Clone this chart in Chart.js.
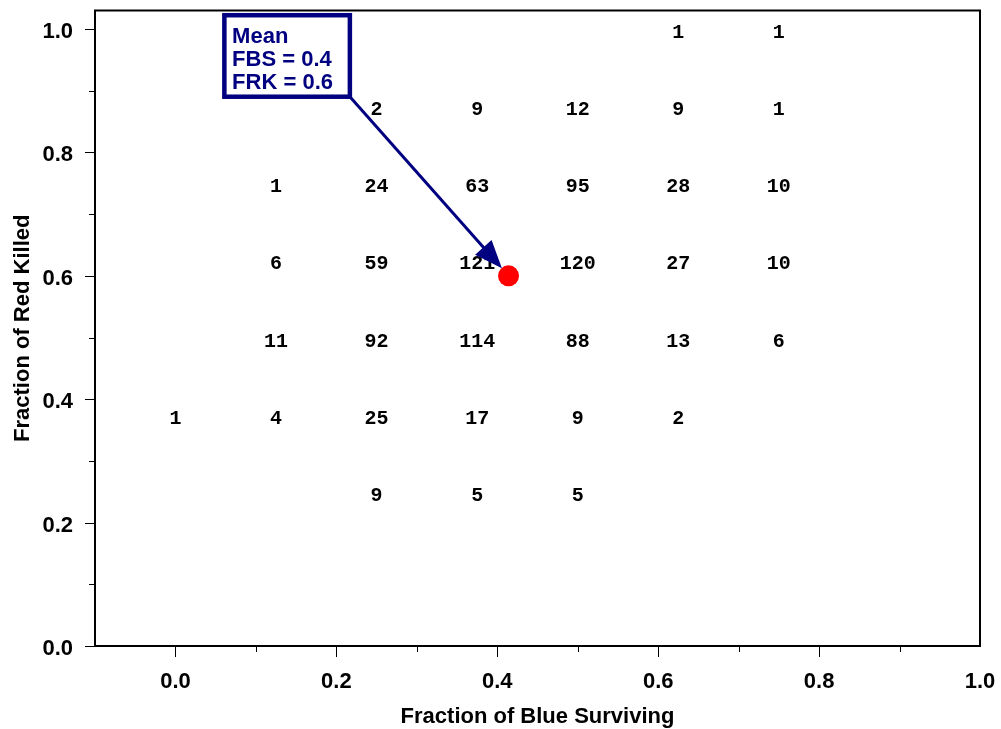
<!DOCTYPE html>
<html>
<head>
<meta charset="utf-8">
<title>Fraction of Red Killed vs Fraction of Blue Surviving</title>
<script src="https://cdn.jsdelivr.net/npm/chart.js@4.4.1/dist/chart.umd.min.js"></script>
<style>
  html, body { margin: 0; padding: 0; background: #fff; }
  #chart { display: block; }
</style>
</head>
<body>
<canvas id="chart" width="1001" height="729"></canvas>
<script>
// bin centres of the two outcome fractions
const fbsBins = [0, 0.125, 0.25, 0.375, 0.5, 0.625, 0.75];
const frkBins = [1.0, 0.875, 0.75, 0.625, 0.5, 0.375, 0.25];

// runs per cell, one row per frkBins entry (null = no runs)
const counts = [
  [null, null, null, null, null, 1, 1],
  [null, null, 2, 9, 12, 9, 1],
  [null, 1, 24, 63, 95, 28, 10],
  [null, 6, 59, 121, 120, 27, 10],
  [null, 11, 92, 114, 88, 13, 6],
  [1, 4, 25, 17, 9, 2, null],
  [null, null, 9, 5, 5, null, null]
];

const meanFBS = 0.414;
const meanFRK = 0.6;
const meanText = ['Mean', 'FBS = 0.4', 'FRK = 0.6'];

const xTicks = [0, 0.2, 0.4, 0.6, 0.8, 1.0];
const xMinorTicks = [0.1, 0.3, 0.5, 0.7, 0.9];
const yTicks = [0, 0.2, 0.4, 0.6, 0.8, 1.0];
const yMinorTicks = [0.1, 0.3, 0.5, 0.7, 0.9];

const NAVY = '#000080';
const sansBold = { family: "'Liberation Sans', Arial, sans-serif", size: 22, weight: 'bold' };

// flatten the count grid into scatter points
const cells = [];
frkBins.forEach((frk, r) => {
  fbsBins.forEach((fbs, c) => {
    const n = counts[r][c];
    if (n != null) cells.push({ x: fbs, y: frk, n: n });
  });
});

// fixed axis sizes, no extra room for edge labels
function fixSize(prop, size) {
  return s => {
    s[prop] = size;
    s.paddingTop = s.paddingBottom = s.paddingLeft = s.paddingRight = 0;
  };
}

// box frame plus outward major/minor tick marks
const frameTicks = {
  id: 'frameTicks',
  beforeDatasetsDraw(chart) {
    const { ctx, chartArea: a, scales } = chart;
    const line = (x1, y1, x2, y2) => {
      ctx.beginPath(); ctx.moveTo(x1, y1); ctx.lineTo(x2, y2); ctx.stroke();
    };
    ctx.save();
    ctx.strokeStyle = '#000';
    ctx.lineWidth = 1;
    const xMark = (v, len) => {
      const px = Math.round(scales.x.getPixelForValue(v)) + 0.5;
      if (px <= a.left + 1 || px >= a.right - 1) return;
      line(px, a.bottom, px, a.bottom + len);
    };
    const yMark = (v, len) => {
      const py = Math.round(scales.y.getPixelForValue(v)) + 0.5;
      line(a.left, py, a.left - len, py);
    };
    xTicks.forEach(v => xMark(v, 11));
    xMinorTicks.forEach(v => xMark(v, 6));
    yTicks.forEach(v => yMark(v, 10));
    yMinorTicks.forEach(v => yMark(v, 6));

    ctx.lineWidth = 2;
    ctx.strokeRect(a.left, a.top, a.width, a.height);
    ctx.restore();
  }
};

// the run counts written at each cell
const cellLabels = {
  id: 'cellLabels',
  afterDatasetsDraw(chart) {
    const { ctx } = chart;
    const meta = chart.getDatasetMeta(0);
    ctx.save();
    ctx.font = "bold 20px 'Liberation Mono', 'Courier New', monospace";
    ctx.fillStyle = '#000';
    ctx.textAlign = 'center';
    ctx.textBaseline = 'alphabetic';
    meta.data.forEach((pt, i) => {
      ctx.fillText(String(cells[i].n), pt.x, pt.y + 9);
    });
    ctx.restore();
  }
};

// "Mean" callout box with arrow to the red dot
const meanCallout = {
  id: 'meanCallout',
  afterDatasetsDraw(chart) {
    const { ctx, scales: { x, y } } = chart;
    const dot = chart.getDatasetMeta(1).data[0];
    const left = x.getPixelForValue(0.058);
    const top = y.getPixelForValue(1.026);
    const w = 130, h = 86, bw = 4.5;

    ctx.save();
    ctx.fillStyle = '#fff';
    ctx.fillRect(left, top, w, h);
    ctx.strokeStyle = NAVY;
    ctx.lineWidth = bw;
    ctx.strokeRect(left + bw / 2, top + bw / 2, w - bw, h - bw);

    ctx.fillStyle = NAVY;
    ctx.font = "bold 22px 'Liberation Sans', Arial, sans-serif";
    ctx.textAlign = 'left';
    ctx.textBaseline = 'alphabetic';
    meanText.forEach((t, i) => ctx.fillText(t, left + 10, top + 30 + i * 23));

    const sx = left + w - 2, sy = top + h - 2;
    const dx = dot.x - sx, dy = dot.y - sy;
    const len = Math.hypot(dx, dy);
    const ux = dx / len, uy = dy / len;
    const tipX = dot.x - ux * 10, tipY = dot.y - uy * 10;
    const headLen = 28, headW = 11;
    const bx = tipX - ux * headLen, by = tipY - uy * headLen;

    ctx.lineWidth = 3;
    ctx.beginPath();
    ctx.moveTo(sx, sy);
    ctx.lineTo(bx + ux * 2, by + uy * 2);
    ctx.stroke();

    ctx.beginPath();
    ctx.moveTo(tipX, tipY);
    ctx.lineTo(bx - uy * headW, by + ux * headW);
    ctx.lineTo(bx + uy * headW, by - ux * headW);
    ctx.closePath();
    ctx.fill();
    ctx.restore();
  }
};

new Chart(document.getElementById('chart'), {
  type: 'scatter',
  data: {
    datasets: [
      { label: 'Runs', data: cells, pointRadius: 0, pointHoverRadius: 0 },
      {
        label: 'Mean',
        data: [{ x: meanFBS, y: meanFRK }],
        pointRadius: 10.5,
        pointHoverRadius: 10.5,
        backgroundColor: '#ff0000',
        borderWidth: 0
      }
    ]
  },
  options: {
    responsive: false,
    animation: false,
    events: [],
    layout: { padding: { top: 7, right: 21, left: 0, bottom: 0 } },
    plugins: {
      legend: { display: false },
      tooltip: { enabled: false }
    },
    scales: {
      x: {
        type: 'linear',
        min: -0.1,
        max: 1.0,
        afterBuildTicks: s => { s.ticks = xTicks.map(v => ({ value: v })); },
        afterFit: fixSize('height', 83),
        grid: { display: false, drawTicks: false },
        border: { display: false },
        ticks: {
          padding: 23,
          maxRotation: 0,
          autoSkip: false,
          color: '#000',
          font: sansBold,
          callback: v => v.toFixed(1)
        },
        title: {
          display: true,
          text: 'Fraction of Blue Surviving',
          color: '#000',
          font: sansBold,
          padding: { top: 0, bottom: -1 }
        }
      },
      y: {
        type: 'linear',
        min: 0,
        max: 1.03,
        afterBuildTicks: s => { s.ticks = yTicks.map(v => ({ value: v })); },
        afterFit: fixSize('width', 95),
        grid: { display: false, drawTicks: false },
        border: { display: false },
        ticks: {
          padding: 22,
          labelOffset: 3,
          autoSkip: false,
          color: '#000',
          font: sansBold,
          callback: v => v.toFixed(1)
        },
        title: {
          display: true,
          text: 'Fraction of Red Killed',
          color: '#000',
          font: sansBold,
          padding: { top: 10, bottom: 0 }
        }
      }
    }
  },
  plugins: [frameTicks, cellLabels, meanCallout]
});
</script>
</body>
</html>
